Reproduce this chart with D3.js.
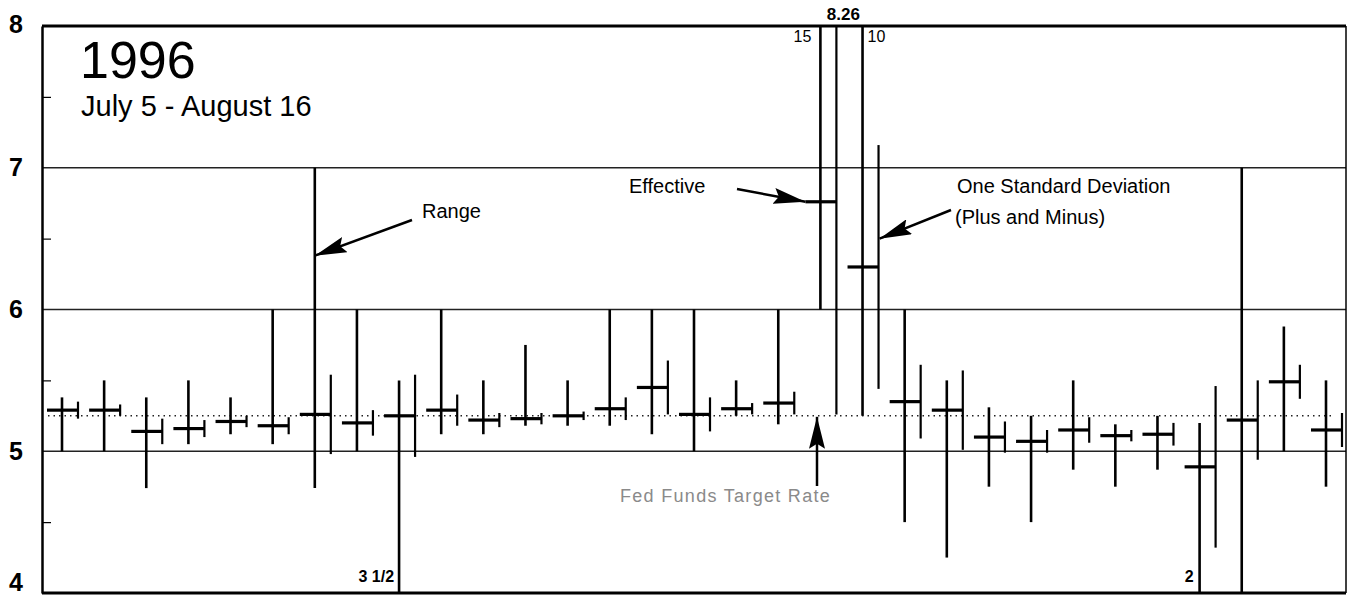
<!DOCTYPE html>
<html lang="en">
<head>
<meta charset="utf-8">
<title>Fed Funds 1996</title>
<script src="https://cdn.jsdelivr.net/npm/d3@7"></script>
<style>
  body { margin: 0; background: #fff; }
  text { font-family: Arial, "Liberation Sans", sans-serif; fill: #000; }
</style>
</head>
<body>
<script>
// business days, July 5 - August 16 1996
var days = ["Jul 5", "Jul 8", "Jul 9", "Jul 10", "Jul 11", "Jul 12",
            "Jul 15", "Jul 16", "Jul 17", "Jul 18", "Jul 19",
            "Jul 22", "Jul 23", "Jul 24", "Jul 25", "Jul 26",
            "Jul 29", "Jul 30", "Jul 31", "Aug 1", "Aug 2",
            "Aug 5", "Aug 6", "Aug 7", "Aug 8", "Aug 9",
            "Aug 12", "Aug 13", "Aug 14", "Aug 15", "Aug 16"];

var effective = [5.29, 5.29, 5.14, 5.16, 5.21, 5.18, 5.26, 5.20, 5.25, 5.29, 5.22,
                 5.23, 5.25, 5.30, 5.45, 5.26, 5.30, 5.34, 6.76, 6.30, 5.35,
                 5.29, 5.10, 5.07, 5.15, 5.11, 5.12, 4.89, 5.22, 5.49, 5.15];

var stdDev = [0.06, 0.04, 0.09, 0.06, 0.04, 0.06, 0.28, 0.09, 0.29, 0.11, 0.05,
              0.04, 0.03, 0.08, 0.19, 0.12, 0.04, 0.08, 1.50, 0.86, 0.26,
              0.28, 0.11, 0.08, 0.09, 0.04, 0.08, 0.57, 0.28, 0.12, 0.12];

var rangeLow = [5.00, 5.00, 4.74, 5.05, 5.12, 5.05, 4.74, 5.00, 3.50, 5.12, 5.12,
                5.18, 5.18, 5.18, 5.12, 5.00, 5.25, 5.19, 6.00, 5.25, 4.50,
                4.25, 4.75, 4.50, 4.87, 4.75, 4.87, 2.00, 4.00, 5.00, 4.75];

var rangeHigh = [5.38, 5.50, 5.38, 5.50, 5.38, 6.00, 7.00, 6.00, 5.50, 6.00, 5.50,
                 5.75, 5.50, 6.00, 6.00, 6.00, 5.50, 6.00, 15.00, 10.00, 6.00,
                 5.50, 5.31, 5.25, 5.50, 5.19, 5.25, 5.20, 7.00, 5.88, 5.50];

var targetRate = 5.25;
var yTicks = [4, 5, 6, 7, 8];
var yMinorTicks = [4.5, 5.5, 6.5, 7.5];

var width = 1348, height = 599;
var plotLeft = 42, plotRight = 1346, plotTop = 26, plotBottom = 593;

var svg = d3.select("body").append("svg")
    .attr("width", width)
    .attr("height", height);

var x = d3.scalePoint().domain(days).range([62, 1326]);
var y = d3.scaleLinear().domain([4, 8]).range([plotBottom, plotTop]);

var defs = svg.append("defs");
defs.append("clipPath").attr("id", "plot")
  .append("rect")
    .attr("x", plotLeft).attr("y", plotTop)
    .attr("width", plotRight - plotLeft).attr("height", plotBottom - plotTop);
defs.append("marker")
    .attr("id", "head")
    .attr("markerUnits", "userSpaceOnUse")
    .attr("viewBox", "0 0 32 16")
    .attr("refX", 32).attr("refY", 8)
    .attr("markerWidth", 32).attr("markerHeight", 16)
    .attr("orient", "auto")
  .append("path")
    .attr("d", "M0,0L32,8L0,16L5,8Z")
    .attr("fill", "#000");

// horizontal grid lines
svg.append("g").selectAll("line")
  .data([5, 6, 7])
  .enter().append("line")
    .attr("x1", plotLeft).attr("x2", plotRight)
    .attr("y1", function(d) { return y(d); })
    .attr("y2", function(d) { return y(d); })
    .attr("stroke", "#222")
    .attr("stroke-width", 1.5);

// frame
svg.append("line").attr("x1", plotLeft).attr("x2", plotRight).attr("y1", plotTop).attr("y2", plotTop)
    .attr("stroke", "#000").attr("stroke-width", 3);
svg.append("line").attr("x1", plotLeft).attr("x2", plotRight).attr("y1", plotBottom).attr("y2", plotBottom)
    .attr("stroke", "#000").attr("stroke-width", 3);
svg.append("line").attr("x1", plotRight).attr("x2", plotRight).attr("y1", plotTop).attr("y2", plotBottom)
    .attr("stroke", "#000").attr("stroke-width", 1.5);

// y axis labels
var yAxis = svg.append("g")
    .attr("transform", "translate(" + plotLeft + ",0)")
    .call(d3.axisLeft(y).tickValues(yTicks).tickSize(0).tickPadding(19).tickFormat(d3.format("d")));
yAxis.select(".domain").attr("stroke", "#000").attr("stroke-width", 2.5);
yAxis.selectAll("text")
    .style("font-family", "Arial, 'Liberation Sans', sans-serif")
    .style("font-size", "25px")
    .style("font-weight", "bold")
    .attr("dy", function(d) { return d === 4 ? "-0.1em" : d === 8 ? "0.25em" : "0.32em"; });

// half-point ticks inside the frame
var minor = svg.append("g")
    .attr("transform", "translate(" + plotLeft + ",0)")
    .call(d3.axisRight(y).tickValues(yMinorTicks).tickSize(9).tickFormat(""));
minor.select(".domain").remove();
minor.selectAll("line").attr("stroke", "#000").attr("stroke-width", 1.2);

// target rate
svg.append("line")
    .attr("x1", x(days[0]) - 14)
    .attr("x2", x(days[days.length - 1]) + 8)
    .attr("y1", y(targetRate)).attr("y2", y(targetRate))
    .attr("stroke", "#222")
    .attr("stroke-width", 1.5)
    .attr("stroke-dasharray", "1.5,4");

var marks = svg.append("g").attr("clip-path", "url(#plot)");

// daily range
marks.selectAll("line.range")
  .data(days)
  .enter().append("line")
    .attr("class", "range")
    .attr("x1", function(d) { return x(d); })
    .attr("x2", function(d) { return x(d); })
    .attr("y1", function(d, i) { return y(rangeLow[i]); })
    .attr("y2", function(d, i) { return y(rangeHigh[i]); })
    .attr("stroke", "#000")
    .attr("stroke-width", 2.6);

// effective rate
marks.selectAll("line.eff")
  .data(days)
  .enter().append("line")
    .attr("class", "eff")
    .attr("x1", function(d) { return x(d) - 15; })
    .attr("x2", function(d) { return x(d) + 16; })
    .attr("y1", function(d, i) { return y(effective[i]); })
    .attr("y2", function(d, i) { return y(effective[i]); })
    .attr("stroke", "#000")
    .attr("stroke-width", 3.2);

// one standard deviation, plus and minus
marks.selectAll("line.sd")
  .data(days)
  .enter().append("line")
    .attr("class", "sd")
    .attr("x1", function(d) { return x(d) + 16; })
    .attr("x2", function(d) { return x(d) + 16; })
    .attr("y1", function(d, i) { return y(effective[i] - stdDev[i]); })
    .attr("y2", function(d, i) { return y(effective[i] + stdDev[i]); })
    .attr("stroke", "#000")
    .attr("stroke-width", 2.2);

// off-scale values
function offLabel(txt, px, py, anchor, weight, size) {
  svg.append("text")
      .attr("x", px).attr("y", py)
      .attr("text-anchor", anchor)
      .style("font-size", size || "16px")
      .style("font-weight", weight)
      .text(txt);
}
offLabel("15", x("Jul 31") - 9, 42, "end", "normal");
offLabel("10", x("Aug 1") + 5, 42, "start", "normal");
offLabel(d3.format(".2f")(effective[18] + stdDev[18]), x("Jul 31") + 23, 20, "middle", "bold", "17px");
offLabel("3 1/2", x("Jul 17") - 5, plotBottom - 11, "end", "bold");
offLabel("2", x("Aug 13") - 6, plotBottom - 11, "end", "bold");

// titles
svg.append("text").attr("x", 80).attr("y", 78)
    .style("font-size", "52px").text("1996");
svg.append("text").attr("x", 81).attr("y", 116)
    .style("font-size", "29px").text("July 5 - August 16");

// annotations
function arrow(x1, y1, x2, y2) {
  svg.append("line")
      .attr("x1", x1).attr("y1", y1).attr("x2", x2).attr("y2", y2)
      .attr("stroke", "#000").attr("stroke-width", 2.5)
      .attr("marker-end", "url(#head)");
}
function note(txt, px, py) {
  return svg.append("text").attr("x", px).attr("y", py)
      .style("font-size", "20px").text(txt);
}

note("Range", 422, 218);
arrow(412, 220, x("Jul 15"), y(6.38));

note("Effective", 629, 193);
arrow(737, 189, x("Jul 31") - 15, y(effective[18]));

note("One Standard Deviation", 957, 193);
note("(Plus and Minus)", 955, 224);
arrow(951, 210, x("Aug 1") + 17, y(6.5));

svg.append("text").attr("x", 620).attr("y", 502)
    .style("font-size", "18px")
    .style("font-weight", "300")
    .style("letter-spacing", "1.3px")
    .style("fill", "#8a8a8a")
    .text("Fed Funds Target Rate");
arrow(817, 486, 817, y(targetRate) + 1);
</script>
</body>
</html>
